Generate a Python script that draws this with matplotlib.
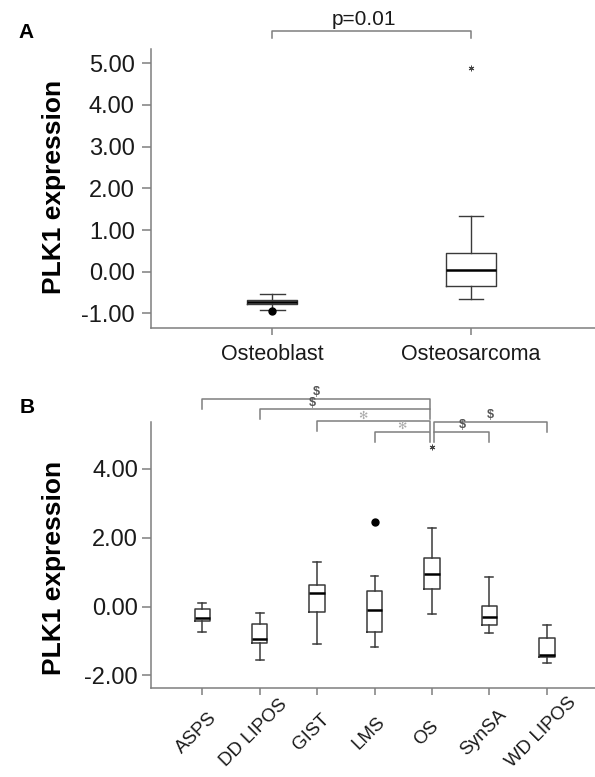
import matplotlib
matplotlib.use('Agg')
import matplotlib.pyplot as plt
from matplotlib.transforms import ScaledTranslation

plt.rcParams['font.family'] = ['Liberation Sans', 'DejaVu Sans']

# ---- panel A data ----
groups_a = ['Osteoblast', 'Osteosarcoma']
whislo_a = [-0.92, -0.655]
q1_a = [-0.78, -0.34]
med_a = [-0.73, 0.04]
q3_a = [-0.68, 0.44]
whishi_a = [-0.535, 1.34]
out_a_group = [0, 1]
out_a_value = [-0.94, 4.88]
out_a_kind = ['o', '*']
ticks_a = [-1, 0, 1, 2, 3, 4, 5]
p_text_a = 'p=0.01'

# ---- panel B data ----
groups_b = ['ASPS', 'DD LIPOS', 'GIST', 'LMS', 'OS', 'SynSA', 'WD LIPOS']
whislo_b = [-0.73, -1.55, -1.10, -1.16, -0.23, -0.78, -1.65]
q1_b = [-0.43, -1.07, -0.17, -0.75, 0.51, -0.53, -1.46]
med_b = [-0.33, -0.94, 0.38, -0.10, 0.95, -0.29, -1.41]
q3_b = [-0.08, -0.52, 0.64, 0.46, 1.42, 0.02, -0.90]
whishi_b = [0.09, -0.20, 1.30, 0.88, 2.27, 0.87, -0.54]
out_b_group = [3, 4]
out_b_value = [2.46, 4.64]
out_b_kind = ['o', '*']
ticks_b = [-2, 0, 2, 4]
comp_left = ['ASPS', 'DD LIPOS', 'GIST', 'LMS', 'OS', 'OS']
comp_right = ['OS', 'OS', 'OS', 'OS', 'WD LIPOS', 'SynSA']
comp_sym = ['$', '$', '\u273b', '\u273b', '$', '$']

AXCOL = '#7f7f7f'
BOXCOL = '#3a3a3a'

fig = plt.figure(figsize=(5.95, 7.77), dpi=100)
ax_a = fig.add_axes([0.2533, 0.5775, 0.7467, 0.3595])
ax_b = fig.add_axes([0.2543, 0.1141, 0.7457, 0.3431])


def make_stats(lo, q1, med, q3, hi):
    return [dict(whislo=a, q1=b, med=c, q3=d, whishi=e, fliers=[])
            for a, b, c, d, e in zip(lo, q1, med, q3, hi)]


def draw_boxes(ax, stats, width, lw):
    pos = list(range(1, len(stats) + 1))
    ax.bxp(stats, positions=pos, widths=width, showfliers=False,
           boxprops=dict(color=BOXCOL, lw=lw),
           whiskerprops=dict(color=BOXCOL, lw=lw),
           capprops=dict(color=BOXCOL, lw=lw),
           medianprops=dict(color='black', lw=1.8))
    return pos


def draw_outliers(ax, grp, val, kind):
    for g, v, k in zip(grp, val, kind):
        if k == 'o':
            ax.plot(g + 1, v, 'o', ms=5, color='black')
        else:
            ax.plot(g + 1, v, marker=(6, 2, 0), ms=4, mew=0.7, color='#444444')


def style_axes(ax, ticks, pad_y):
    for s in ['top', 'right']:
        ax.spines[s].set_visible(False)
    for s in ['left', 'bottom']:
        ax.spines[s].set_color(AXCOL)
        ax.spines[s].set_linewidth(1.1)
    ax.set_yticks(ticks, labels=[f'{t:.2f}' for t in ticks])
    ax.tick_params(axis='y', length=6.5, width=1.1, color=AXCOL,
                   labelsize=17, pad=pad_y, labelcolor='#1a1a1a')
    ax.tick_params(axis='x', length=5, width=1.1, color=AXCOL,
                   labelcolor='#1a1a1a')


# ---- panel A ----
pos_a = draw_boxes(ax_a, make_stats(whislo_a, q1_a, med_a, q3_a, whishi_a), 0.25, 1.0)
draw_outliers(ax_a, out_a_group, out_a_value, out_a_kind)
style_axes(ax_a, ticks_a, 5)
ax_a.set_xticks(pos_a, labels=groups_a, fontsize=15.5)
ax_a.tick_params(axis='x', pad=6)
ax_a.set_xlim(0.388, 2.624)
ax_a.set_ylim(-1.358, 5.344)

top_a = 5.78
ax_a.plot([1, 1, 2, 2], [top_a - 0.18, top_a, top_a, top_a - 0.18],
          color=AXCOL, lw=1.1, clip_on=False)
ax_a.text(1.46, top_a + 0.05, p_text_a, ha='center', va='bottom',
          fontsize=15, color='#1a1a1a')

# ---- panel B ----
pos_b = draw_boxes(ax_b, make_stats(whislo_b, q1_b, med_b, q3_b, whishi_b), 0.27, 1.1)
draw_outliers(ax_b, out_b_group, out_b_value, out_b_kind)
style_axes(ax_b, ticks_b, 3)
ax_b.set_xticks(pos_b, labels=groups_b, fontsize=13.5, rotation=45,
                ha='center', va='center', rotation_mode='anchor')
ax_b.tick_params(axis='x', pad=27)
shift = ScaledTranslation(-4 / 72, 0, fig.dpi_scale_trans)
for lbl in ax_b.get_xticklabels():
    lbl.set_transform(lbl.get_transform() + shift)
ax_b.set_xlim(0.111, 7.84)
ax_b.set_ylim(-2.374, 5.364)

levels = [6.03, 5.72, 5.39, 5.08, 5.37, 5.08]
label_shift = [0, -0.56, -0.18, 0, 0, 0]
drop = 0.29
for left, right, sym, lev, sh in zip(comp_left, comp_right, comp_sym,
                                     levels, label_shift):
    x0 = groups_b.index(left) + 1
    x1 = groups_b.index(right) + 1
    if left == 'OS':
        x0 += 0.04
    if right == 'OS':
        x1 -= 0.04
    ax_b.plot([x0, x0, x1, x1], [lev - drop, lev, lev, lev - drop],
              color=AXCOL, lw=1.1, clip_on=False)
    if sym == '$':
        ax_b.text((x0 + x1) / 2 + sh, lev + 0.01, sym, ha='center',
                  va='bottom', fontsize=9, color='#555555', fontweight='bold')
    else:
        ax_b.text((x0 + x1) / 2 + sh, lev + 0.01, sym, ha='center',
                  va='bottom', fontsize=8, color='#aaaaaa')

# ---- labels ----
fig.text(54 / 595, 1 - 187 / 777, 'PLK1 expression', rotation=90,
         ha='center', va='center', fontsize=19, fontweight='bold')
fig.text(54 / 595, 1 - 568 / 777, 'PLK1 expression', rotation=90,
         ha='center', va='center', fontsize=19, fontweight='bold')
fig.text(26 / 595, 1 - 32 / 777, 'A', ha='center', va='center',
         fontsize=15, fontweight='bold')
fig.text(27 / 595, 1 - 408 / 777, 'B', ha='center', va='center',
         fontsize=15, fontweight='bold')

fig.savefig('out.png', dpi=100)
